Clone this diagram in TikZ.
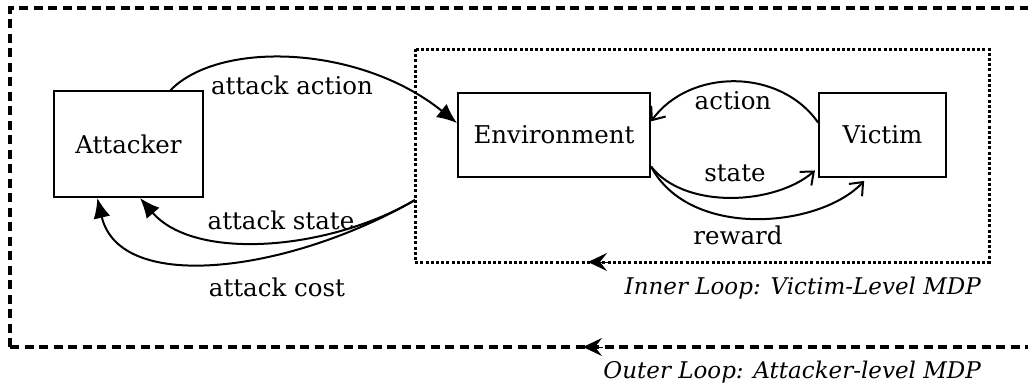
\documentclass[tikz,border=0pt]{standalone}
\usepackage{fontspec}
\setmainfont{DejaVu Serif}
\usetikzlibrary{arrows.meta}
\tikzset{
  box/.style={draw,line width=2pt,inner sep=0pt,font=\fontsize{24.5}{28}\selectfont},
  lbl/.style={inner sep=0pt,font=\fontsize{24.5}{28}\selectfont},
  looptext/.style={inner sep=0pt,anchor=east,font=\fontsize{23}{28}\selectfont\itshape},
  big/.style={line width=2pt,-{Latex[length=20pt,width=17pt]}},
  small/.style={line width=2pt,-{Straight Barb[length=11pt,width=18pt,line width=2pt]}},
  looparrow/.style={line width=1pt,-{Stealth[length=19pt,width=18pt,inset=7pt]}}
}
\begin{document}
\begin{tikzpicture}[x=1pt,y=-1pt]
                          \useasboundingbox (0,0) rectangle (1028,391);
                          \clip (0,0) rectangle (1028,391);
                          \draw[line width=3.5pt,dash pattern=on 9pt off 5.5pt] (10,347) -- (10,8) -- (1040,8) (10,347) -- (1040,347);
                          \draw[line width=3pt,dash pattern=on 3pt off 2.2pt] (415,49) rectangle (989,262);
                          \node[box,minimum width=149pt,minimum height=106pt] (att) at (128.5,144) {Attacker};
                          \node[box,minimum width=192pt,minimum height=84pt] (env) at (554,135) {Environment};
                          \node[box,minimum width=127pt,minimum height=84pt] (vic) at (882.5,135) {Victim};
                          \coordinate (inl) at (415,200); % bord gauche de la boucle interne
                          \draw[big] (att.52) .. controls (220,40) and (360,45) .. (env.173);
                          \draw[big] (inl) .. controls (330,250) and (195,262) .. (att.-78);
                          \draw[big] (inl) .. controls (290,272) and (120,295) .. (att.-120);
                          \draw[small] (vic.169) .. controls (780,68) and (690,68) .. (env.8);
                          \draw[small,shorten >=4pt] (env.-18) .. controls (685,210) and (775,205) .. (vic.-153);
                          \draw[small,shorten >=4pt] (env.-18) .. controls (690,240) and (820,228) .. (vic.-110);
                          \node[lbl] (aa) at (292,85) {attack action};
                          \node[lbl] (as) at (281,220) {attack state};
                          \node[lbl] (ac) at (277,287) {attack cost};
                          \node[lbl] (act) at (733,101) {action};
                          \node[lbl] (st) at (735,173) {state};
                          \node[lbl] (rw) at (738,235) {reward};
                          \coordinate (inA) at (608,262);
                          \coordinate (inB) at (588,262);
                          \draw[looparrow] (inA) -- (inB);
                          \coordinate (outA) at (603,347);
                          \coordinate (outB) at (583,347);
                          \draw[looparrow] (outA) -- (outB);
                          \node[looptext] (inner) at (981,288) {Inner Loop: Victim-Level MDP};
                          \node[looptext] (outer) at (981,372) {Outer Loop: Attacker-level MDP};
                      \end{tikzpicture}
\end{document}
